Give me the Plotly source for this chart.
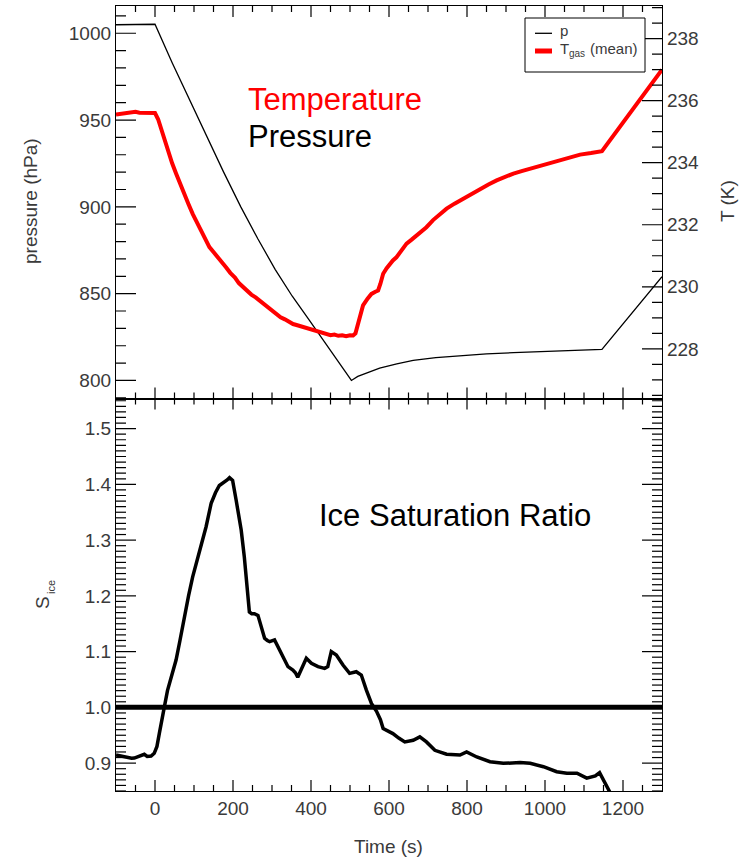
import plotly.graph_objects as go

# ---- chamber expansion record -------------------------------------------
# pressure (hPa)
P_TIME = [-100, -50, 0, 44, 88, 132, 176, 220, 264, 308, 352, 396, 440, 503.6,
          520, 550, 576, 620, 662, 720, 790, 850, 919, 980, 1047, 1100, 1146,
          1300]
P_HPA = [1004.9, 1005.1, 1005.2, 983.0, 962.0, 940.5, 920.0, 900.0, 881.5,
         864.0, 848.5, 834.6, 820.5, 800.0, 802.3, 805.0, 807.1, 809.6, 811.6,
         813.2, 814.5, 815.3, 816.0, 816.5, 817.0, 817.5, 817.9, 859.8]

# mean gas temperature (K)
T_TIME = [-100, -90, -80, -70, -60, -50, -40, -30, -20, -10, 0, 8, 19.5, 32,
          44, 54, 65, 75, 86, 96.6, 108, 118, 129, 139.5, 150, 160, 171, 182,
          193, 205, 215, 225, 236, 247, 258, 268, 279, 290, 300, 311, 322, 333,
          343, 354, 365, 375, 386, 396, 407, 418, 428, 439, 450, 460, 470, 480,
          490, 500, 508, 514, 520, 527, 533.4, 545, 555, 565, 572, 578, 585,
          594, 602, 610, 619, 632, 645, 658, 670.6, 683, 696, 713, 730, 747.7,
          768, 790, 812, 833, 855, 876, 898, 919, 940, 962, 983, 1004.6, 1026,
          1047, 1068, 1090, 1118, 1146, 1300]
T_GAS = [235.55, 235.57, 235.56, 235.60, 235.62, 235.64, 235.61, 235.60,
         235.62, 235.59, 235.60, 235.40, 234.94, 234.40, 233.98, 233.65,
         233.28, 232.95, 232.66, 232.35, 232.05, 231.80, 231.55, 231.28,
         231.12, 230.95, 230.80, 230.63, 230.45, 230.30, 230.12, 229.99,
         229.85, 229.75, 229.66, 229.56, 229.43, 229.32, 229.22, 229.13,
         229.02, 228.95, 228.86, 228.80, 228.76, 228.72, 228.68, 228.65,
         228.60, 228.55, 228.50, 228.48, 228.44, 228.46, 228.42, 228.44,
         228.41, 228.44, 228.43, 228.50, 228.75, 229.10, 229.40, 229.62,
         229.77, 229.84, 229.88, 230.10, 230.42, 230.60, 230.74, 230.85,
         230.95, 231.18, 231.39, 231.52, 231.65, 231.80, 231.92, 232.15,
         232.35, 232.52, 232.68, 232.84, 233.00, 233.16, 233.30, 233.43,
         233.55, 233.65, 233.73, 233.81, 233.89, 233.97, 234.05, 234.13,
         234.20, 234.26, 234.31, 234.37, 237.00]

# ice saturation ratio
S_TIME = [-100, -90, -75, -60, -53, -40, -27.5, -20, -10, -2, 5, 11, 17, 24,
          32, 41, 54, 64, 75, 86, 96.6, 105, 114, 122, 131, 144, 155, 165,
          178, 185, 191, 199, 208, 215, 221, 229, 238, 242, 248, 255, 264,
          272, 281, 288, 294, 306.5, 315, 328, 341, 353.5, 360, 366, 375, 388,
          401, 418, 435, 443, 452, 465, 482, 499, 516, 529, 542, 555, 568, 578,
          585, 593.5, 610, 625, 640.5, 662, 679, 696, 717.6, 747.7, 782, 799,
          825, 859, 893, 936, 962, 996, 1030, 1056, 1082, 1107, 1129, 1140,
          1150, 1167, 1175]
S_ICE = [0.9145, 0.913, 0.910, 0.9086, 0.909, 0.912, 0.9158, 0.912, 0.9127,
         0.9176, 0.930, 0.953, 0.978, 1.001, 1.030, 1.055, 1.085, 1.120,
         1.162, 1.200, 1.234, 1.255, 1.276, 1.300, 1.324, 1.366, 1.385,
         1.398, 1.404, 1.408, 1.412, 1.407, 1.372, 1.345, 1.318, 1.270,
         1.210, 1.171, 1.168, 1.168, 1.165, 1.144, 1.124, 1.120, 1.118,
         1.121, 1.109, 1.088, 1.073, 1.067, 1.062, 1.054, 1.067, 1.088,
         1.079, 1.073, 1.070, 1.073, 1.100, 1.094, 1.076, 1.061, 1.064,
         1.058, 1.031, 1.007, 0.993, 0.978, 0.962, 0.959, 0.953, 0.945,
         0.938, 0.941, 0.947, 0.938, 0.923, 0.916, 0.9145, 0.920, 0.911,
         0.9025, 0.8996, 0.901, 0.8996, 0.8936, 0.8846, 0.882, 0.882, 0.873,
         0.877, 0.883, 0.870, 0.847, 0.832]

# saturation reference level
S_REF_TIME = [-100, 1300]
S_REF = [1.0, 1.0]

# axis ranges
T_RANGE = [-100, 1300]
P_RANGE = [789.6, 1015.7]
K_RANGE = [226.4, 239.05]
S_RANGE = [0.85, 1.554]

FONT = "Liberation Sans, Arial, sans-serif"
GREY = "#3a3a3a"

# plot-area size in pixels (figure 743x859 minus margins)
PLOT_W = 546.0
PANEL_H = 392.5

fig = go.Figure()
fig.add_trace(go.Scatter(x=P_TIME, y=P_HPA, xaxis="x2", yaxis="y",
                         mode="lines", line=dict(color="black", width=1.3),
                         name="p"))
fig.add_trace(go.Scatter(x=T_TIME, y=T_GAS, xaxis="x2", yaxis="y2",
                         mode="lines", line=dict(color="#ff0000", width=4),
                         name="T gas (mean)"))
fig.add_trace(go.Scatter(x=S_REF_TIME, y=S_REF, xaxis="x", yaxis="y3",
                         mode="lines", line=dict(color="black", width=5)))
fig.add_trace(go.Scatter(x=S_TIME, y=S_ICE, xaxis="x", yaxis="y3",
                         mode="lines", line=dict(color="black", width=3.5)))


# ---- inward tick marks on every frame edge --------------------------------
def x_tick_segments(marks, yr):
    """Vertical tick segments at the bottom and top edge of a panel."""
    xs, ys = [], []
    per_px = (yr[1] - yr[0]) / PANEL_H
    for v, length in marks:
        for base, sign in ((yr[0], 1), (yr[1], -1)):
            xs += [v, v, None]
            ys += [base, base + sign * length * per_px, None]
    return xs, ys


def y_tick_segments(marks, xr, sides):
    """Horizontal tick segments on the left and/or right edge of a panel."""
    xs, ys = [], []
    per_px = (xr[1] - xr[0]) / PLOT_W
    for v, length in marks:
        for side in sides:
            base, sign = (xr[0], 1) if side == "left" else (xr[1], -1)
            xs += [base, base + sign * length * per_px, None]
            ys += [v, v, None]
    return xs, ys


time_marks = [(t, 11 if t % 200 == 0 else 6) for t in range(-50, 1300, 50)]
p_marks = [(p, 20 if p % 50 == 0 else 10) for p in range(790, 1016, 10)]
k_marks = [(k / 2.0, 20 if k % 4 == 0 else 10) for k in range(453, 479)]
s_marks = [(k / 100.0, 20 if k % 10 == 0 else 10) for k in range(85, 156)]

tick_line = dict(color="black", width=1.2)
tick_sets = [
    (x_tick_segments(time_marks, P_RANGE), "x2", "y"),
    (x_tick_segments(time_marks, S_RANGE), "x", "y3"),
    (y_tick_segments(p_marks, T_RANGE, ["left"]), "x2", "y"),
    (y_tick_segments(k_marks, T_RANGE, ["right"]), "x2", "y2"),
    (y_tick_segments(s_marks, T_RANGE, ["left", "right"]), "x", "y3"),
]
for (xs, ys), xa, ya in tick_sets:
    fig.add_trace(go.Scatter(x=xs, y=ys, xaxis=xa, yaxis=ya, mode="lines",
                             line=tick_line, hoverinfo="skip",
                             connectgaps=False))

tickfont = dict(family=FONT, size=19, color=GREY)
common_x = dict(range=T_RANGE, tick0=0, dtick=200, ticks="",
                showline=True, linecolor="black", linewidth=1.3,
                mirror=True, showgrid=False, zeroline=False,
                tickfont=tickfont, automargin=False)
common_y = dict(ticks="", showline=True, linecolor="black", linewidth=1.3,
                showgrid=False, zeroline=False, tickfont=tickfont,
                automargin=False)

fig.update_layout(
    width=743, height=859,
    margin=dict(l=116, r=81, t=6, b=68, autoexpand=False),
    paper_bgcolor="white", plot_bgcolor="white",
    showlegend=False,
    font=dict(family=FONT, color=GREY),
    xaxis=dict(common_x, domain=[0, 1], anchor="y3"),
    xaxis2=dict(common_x, domain=[0, 1], anchor="y", matches="x",
                showticklabels=False),
    yaxis=dict(common_y, domain=[0.5, 1], anchor="x2", range=P_RANGE,
               dtick=50, side="left"),
    yaxis2=dict(common_y, overlaying="y", anchor="x2", side="right",
                range=K_RANGE, dtick=2),
    yaxis3=dict(common_y, domain=[0, 0.5], anchor="x", range=S_RANGE,
                dtick=0.1, tick0=0, tickformat=".1f", mirror=True),
)


def px_x(px):
    return (px - 116) / 546.0


def px_y(py):
    return (791 - py) / 785.0


def label(text, x, y, size, color=GREY, angle=0, xanchor="center"):
    return dict(text=text, x=px_x(x), y=px_y(y), xref="paper", yref="paper",
                showarrow=False, textangle=angle, xanchor=xanchor,
                yanchor="middle", font=dict(family=FONT, size=size,
                                            color=color))


annotations = [
    label("Temperature", 246, 100, 31, "#ff0000", xanchor="left"),
    label("Pressure", 246, 137, 31, "black", xanchor="left"),
    label("Ice Saturation Ratio", 317, 515, 31, "black", xanchor="left"),
    # axis titles
    label("pressure (hPa)", 31, 201, 19, angle=-90),
    label("T (K)", 728, 201, 19, angle=-90),
    label("S", 42, 603, 19, angle=-90),
    label("ice", 51, 587, 11, angle=-90),
    label("Time (s)", 388, 846, 19),
    # legend entries
    label("p", 558, 31, 15, xanchor="left"),
    label("T", 558, 49, 15, xanchor="left"),
    label("gas", 567, 54, 10, xanchor="left"),
    label("(mean)", 588, 49, 15, xanchor="left"),
]
fig.update_layout(annotations=annotations)

# legend frame and line samples
shapes = [
    dict(type="rect", x0=px_x(525), x1=px_x(645), y0=px_y(72), y1=px_y(18),
         line=dict(color="black", width=1), fillcolor="white"),
    dict(type="line", x0=px_x(535), x1=px_x(552), y0=px_y(33.3),
         y1=px_y(33.3), line=dict(color="black", width=1.3)),
    dict(type="line", x0=px_x(535), x1=px_x(552), y0=px_y(51), y1=px_y(51),
         line=dict(color="#ff0000", width=5)),
]
for s in shapes:
    s.update(xref="paper", yref="paper")
fig.update_layout(shapes=shapes)

fig.write_html("out.html")
